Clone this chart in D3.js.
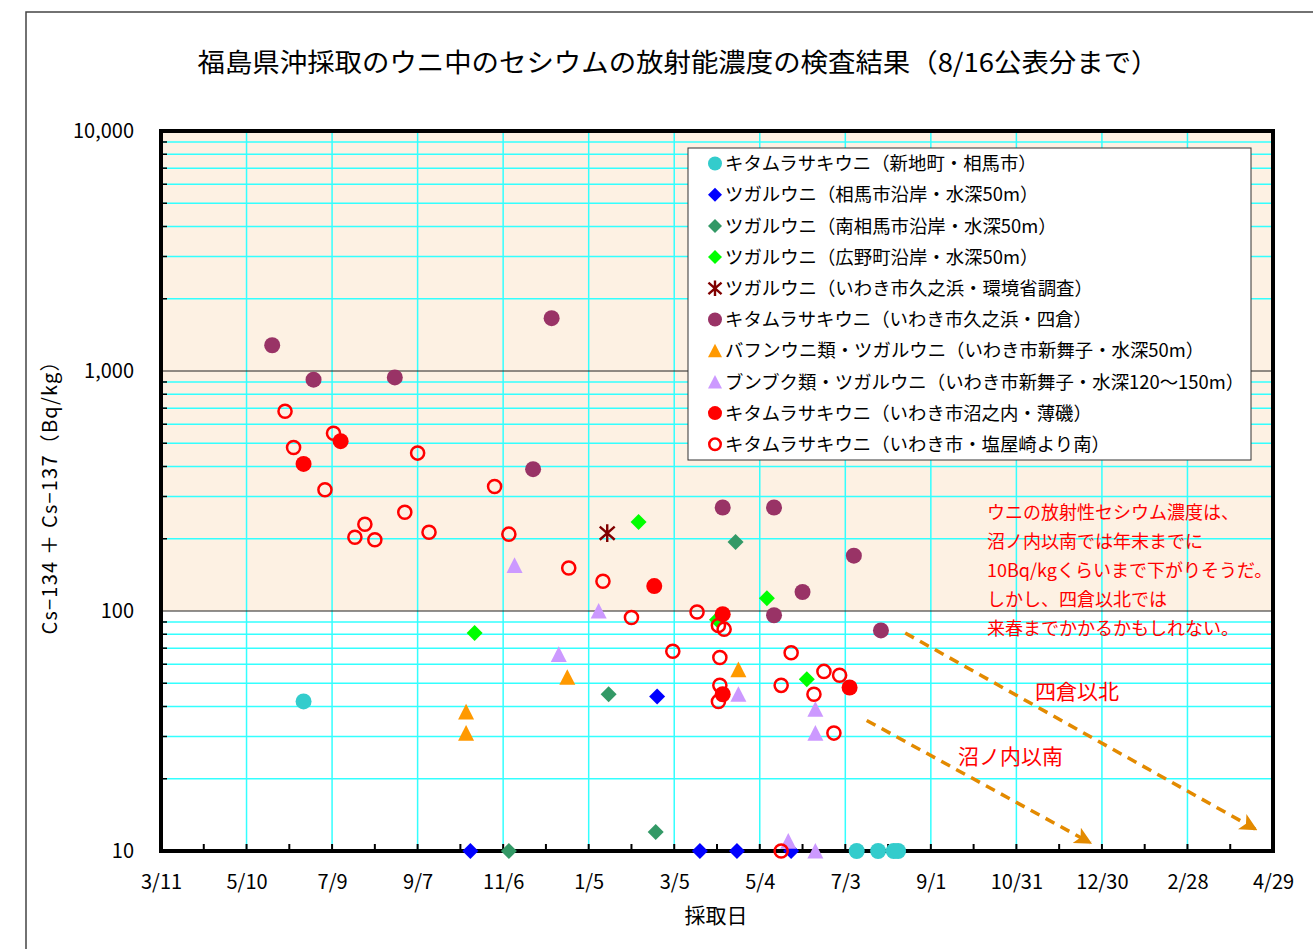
<!DOCTYPE html>
<html>
<head>
<meta charset="utf-8">
<script src="https://cdn.jsdelivr.net/npm/d3@7"></script>
<style>
  body { margin: 0; background: #fff; }
  text { font-family: "Noto Sans CJK JP", "Noto Sans", sans-serif; }
</style>
</head>
<body>
<svg id="chart" width="1313" height="949"></svg>
<script>
// ---- Data: sampling date and Cs-134 + Cs-137 (Bq/kg); not-detected samples are plotted at 10 ----
const shinchiDates  = ["2011-06-19", "2012-07-11", "2012-07-26", "2012-08-06", "2012-08-09"];
const shinchiValues = [42, 10, 10, 10, 10];

const somaDates  = ["2011-10-14", "2012-02-22", "2012-03-23", "2012-04-18", "2012-05-26"];
const somaValues = [10, 44, 10, 10, 10];

const minamisomaDates  = ["2011-11-10", "2012-01-19", "2012-02-21", "2012-04-17"];
const minamisomaValues = [10, 45, 12, 194];

const hironoDates  = ["2011-10-17", "2012-02-09", "2012-04-04", "2012-05-09", "2012-06-06"];
const hironoValues = [81, 235, 92, 113, 52];

const moeDates  = ["2012-01-18"];
const moeValues = [211];

const yotsukuraDates  = ["2011-05-28", "2011-06-26", "2011-08-22", "2011-11-27", "2011-12-10",
                         "2012-04-08", "2012-05-14", "2012-05-14", "2012-06-03", "2012-07-09", "2012-07-28"];
const yotsukuraValues = [1280, 920, 940, 390, 1660, 270, 270, 96, 120, 170, 83];

const bafunDates  = ["2011-10-11", "2011-10-11", "2011-12-21", "2012-04-19"];
const bafunValues = [38, 31, 53, 57];

const bunbukuDates  = ["2011-11-14", "2011-12-15", "2012-01-12", "2012-04-19", "2012-05-24",
                       "2012-06-12", "2012-06-12", "2012-06-12"];
const bunbukuValues = [155, 66, 100, 45, 11, 39, 31, 10];

const usuisoDates  = ["2011-06-19", "2011-07-15", "2012-02-20", "2012-04-08", "2012-04-08", "2012-07-06"];
const usuisoValues = [410, 510, 127, 97, 45, 48];

const shioyaDates  = ["2011-06-06", "2011-06-12", "2011-07-04", "2011-07-10", "2011-07-25", "2011-08-01",
                      "2011-08-08", "2011-08-29", "2011-09-07", "2011-09-15", "2011-10-31", "2011-11-10",
                      "2011-12-22", "2012-01-15", "2012-02-04", "2012-03-04", "2012-03-21", "2012-04-05",
                      "2012-04-09", "2012-04-06", "2012-04-06", "2012-04-05", "2012-05-19", "2012-05-19",
                      "2012-05-26", "2012-06-11", "2012-06-18", "2012-06-25", "2012-06-29"];
const shioyaValues = [680, 480, 320, 550, 203, 230,
                      198, 258, 455, 213, 330, 209,
                      151, 133, 94, 68, 99, 87,
                      84, 64, 49, 42, 49, 10,
                      67, 45, 56, 31, 54];

const seriesNames = [
  "キタムラサキウニ（新地町・相馬市）",
  "ツガルウニ（相馬市沿岸・水深50m）",
  "ツガルウニ（南相馬市沿岸・水深50m）",
  "ツガルウニ（広野町沿岸・水深50m）",
  "ツガルウニ（いわき市久之浜・環境省調査）",
  "キタムラサキウニ（いわき市久之浜・四倉）",
  "バフンウニ類・ツガルウニ（いわき市新舞子・水深50m）",
  "ブンブク類・ツガルウニ（いわき市新舞子・水深120〜150m）",
  "キタムラサキウニ（いわき市沼之内・薄磯）",
  "キタムラサキウニ（いわき市・塩屋崎より南）"
];

const xTickDates = ["2011-03-11", "2011-05-10", "2011-07-09", "2011-09-07", "2011-11-06", "2012-01-05",
                    "2012-03-05", "2012-05-04", "2012-07-03", "2012-09-01", "2012-10-31", "2012-12-30",
                    "2013-02-28", "2013-04-29"];
const yTicks = [10, 100, 1000, 10000];

const noteLines = [
  "ウニの放射性セシウム濃度は、",
  "沼ノ内以南では年末までに",
  "10Bq/kgくらいまで下がりそうだ。",
  "しかし、四倉以北では",
  "来春までかかるかもしれない。"
];
// trend arrows: [start date, start value, end date, end value]
const trendNorth = ["2012-08-14", 81, "2013-04-17", 12.3];
const trendSouth = ["2012-07-18", 35, "2012-12-22", 10.8];

// ---- Chart ----
const parse = d3.utcParse("%Y-%m-%d");
const svg = d3.select("#chart");
const numFont = "'Liberation Sans', 'Noto Sans', sans-serif";

const plot = { left: 161, right: 1273, top: 131, bottom: 851 };

const x = d3.scaleUtc()
  .domain([parse(xTickDates[0]), parse(xTickDates[xTickDates.length - 1])])
  .range([plot.left, plot.right]);
const y = d3.scaleLog()
  .domain([yTicks[0], yTicks[yTicks.length - 1]])
  .range([plot.bottom, plot.top]);

// outer frame of the chart object
svg.append("path")
  .attr("d", "M26,949 V12 H1313")
  .attr("fill", "none").attr("stroke", "#444").attr("stroke-width", 1.5);

// tinted band above 100 Bq/kg
svg.append("rect")
  .attr("x", plot.left).attr("y", y(10000))
  .attr("width", plot.right - plot.left).attr("height", y(100) - y(10000))
  .attr("fill", "#FDF1E3");

// minor horizontal grid (2..9 within each decade)
const minorVals = [];
for (let d = 10; d < 10000; d *= 10) for (let k = 2; k <= 9; k++) minorVals.push(d * k);
svg.append("g").selectAll("line").data(minorVals).join("line")
  .attr("x1", plot.left).attr("x2", plot.right)
  .attr("y1", v => y(v)).attr("y2", v => y(v))
  .attr("stroke", "#33FFFF").attr("stroke-width", 1.5);

// vertical grid at each major date tick
const xTicks = xTickDates.map(parse);
svg.append("g").selectAll("line").data(xTicks.slice(1, -1)).join("line")
  .attr("x1", d => x(d)).attr("x2", d => x(d))
  .attr("y1", plot.top).attr("y2", plot.bottom)
  .attr("stroke", "#33FFFF").attr("stroke-width", 1.5);

// major horizontal lines
svg.append("g").selectAll("line").data(yTicks.slice(1, -1)).join("line")
  .attr("x1", plot.left).attr("x2", plot.right)
  .attr("y1", v => y(v)).attr("y2", v => y(v))
  .attr("stroke", "#222").attr("stroke-width", 1);

// left axis
const yAxis = d3.axisLeft(y)
  .tickValues(yTicks)
  .tickFormat(d3.format(","))
  .tickSize(0).tickPadding(27);
const gy = svg.append("g").attr("transform", `translate(${plot.left},0)`).call(yAxis);
gy.select(".domain").remove();
gy.selectAll("text").attr("font-size", 20).attr("fill", "#000").attr("font-family", numFont);
// inward minor ticks on left axis
svg.append("g").selectAll("line").data(minorVals).join("line")
  .attr("x1", plot.left).attr("x2", plot.left + 6)
  .attr("y1", v => y(v)).attr("y2", v => y(v))
  .attr("stroke", "#000").attr("stroke-width", 1.5);

// bottom axis
const xAxis = d3.axisBottom(x)
  .tickValues(xTicks)
  .tickFormat(d3.utcFormat("%-m/%-d"))
  .tickSize(0).tickPadding(24);
const gx = svg.append("g").attr("transform", `translate(0,${plot.bottom})`).call(xAxis);
gx.select(".domain").remove();
gx.selectAll("text").attr("font-size", 20).attr("fill", "#000").attr("font-family", numFont);
// upward ticks every 30 days
const tickDays = d3.utcDay.range(x.domain()[0], d3.utcDay.offset(x.domain()[1], 1))
  .filter(d => Math.round((d - x.domain()[0]) / 864e5) % 30 === 0);
svg.append("g").selectAll("line").data(tickDays).join("line")
  .attr("x1", d => x(d)).attr("x2", d => x(d))
  .attr("y1", plot.bottom).attr("y2", plot.bottom - 7)
  .attr("stroke", "#000").attr("stroke-width", 2);

// plot frame
svg.append("rect")
  .attr("x", plot.left).attr("y", plot.top)
  .attr("width", plot.right - plot.left).attr("height", plot.bottom - plot.top)
  .attr("fill", "none").attr("stroke", "#000").attr("stroke-width", 4);

// ---- Marker shapes ----
function markerPath(shape, s) {
  switch (shape) {
    case "diamond":
      return `M0,${-s}L${s},0L0,${s}L${-s},0Z`;
    case "triangle":
      return `M0,${-s}L${s},${s * 0.95}L${-s},${s * 0.95}Z`;
    case "asterisk": {
      const a = s * 0.75, b = s * 0.85;
      return `M0,${-s}V${s}M${-b},${-a}L${b},${a}M${b},${-a}L${-b},${a}`;
    }
    default:
      return d3.arc()({ innerRadius: 0, outerRadius: s, startAngle: 0, endAngle: 2 * Math.PI });
  }
}

const series = [
  { dates: shinchiDates,    values: shinchiValues,    shape: "circle",   color: "#33CCCC" },
  { dates: somaDates,       values: somaValues,       shape: "diamond",  color: "#0000FF" },
  { dates: minamisomaDates, values: minamisomaValues, shape: "diamond",  color: "#339966" },
  { dates: hironoDates,     values: hironoValues,     shape: "diamond",  color: "#00FF00" },
  { dates: moeDates,        values: moeValues,        shape: "asterisk", color: "#800000" },
  { dates: yotsukuraDates,  values: yotsukuraValues,  shape: "circle",   color: "#993366" },
  { dates: bafunDates,      values: bafunValues,      shape: "triangle", color: "#FF9900" },
  { dates: bunbukuDates,    values: bunbukuValues,    shape: "triangle", color: "#CC99FF" },
  { dates: usuisoDates,     values: usuisoValues,     shape: "circle",   color: "#FF0000" },
  { dates: shioyaDates,     values: shioyaValues,     shape: "ring",     color: "#FF0000" }
].map((s, i) => ({ ...s, name: seriesNames[i] }));

function styleMarker(sel, s, size) {
  if (s.shape === "ring") {
    sel.attr("d", markerPath("circle", size * 0.82))
      .attr("fill", "none").attr("stroke", s.color).attr("stroke-width", 2.5);
  } else if (s.shape === "asterisk") {
    sel.attr("d", markerPath("asterisk", size * 1.1))
      .attr("fill", "none").attr("stroke", s.color).attr("stroke-width", 2.4);
  } else {
    sel.attr("d", markerPath(s.shape, size)).attr("fill", s.color).attr("stroke", "none");
  }
}

const gMarks = svg.append("g");
series.forEach(s => {
  const pts = s.dates.map((d, i) => ({ date: parse(d), value: s.values[i] }));
  gMarks.append("g").selectAll("path").data(pts).join("path")
    .attr("transform", p => `translate(${x(p.date)},${y(p.value)})`)
    .call(sel => styleMarker(sel, s, 8));
});

// ---- Legend ----
const legend = svg.append("g").attr("transform", "translate(688,148)");
legend.append("rect").attr("width", 563).attr("height", 312)
  .attr("fill", "#fff").attr("stroke", "#333").attr("stroke-width", 1);
series.forEach((s, i) => {
  const row = legend.append("g").attr("transform", `translate(0,${15.5 + i * 31.2})`);
  row.append("path").attr("transform", "translate(27,0)")
    .call(sel => styleMarker(sel, s, 7));
  row.append("text").attr("x", 37).attr("y", 0).attr("dy", "0.36em")
    .attr("font-size", 18.4).attr("fill", "#000").text(s.name);
});

// ---- Trend arrows ----
const defs = svg.append("defs");
defs.append("marker").attr("id", "arrowHead")
  .attr("viewBox", "0 0 10 10").attr("refX", 9).attr("refY", 5)
  .attr("markerWidth", 5).attr("markerHeight", 5).attr("orient", "auto")
  .attr("markerUnits", "strokeWidth")
  .append("path").attr("d", "M0,0L10,5L0,10L2.5,5Z").attr("fill", "#E38A00");

[trendNorth, trendSouth].forEach(t => {
  svg.append("line")
    .attr("x1", x(parse(t[0]))).attr("y1", y(t[1]))
    .attr("x2", x(parse(t[2]))).attr("y2", y(t[3]))
    .attr("stroke", "#E38A00").attr("stroke-width", 3.5)
    .attr("stroke-dasharray", "10,7")
    .attr("marker-end", "url(#arrowHead)");
});

// ---- Annotations ----
const note = svg.append("g").attr("fill", "#FF0000").attr("font-size", 18);
noteLines.forEach((line, i) => {
  note.append("text").attr("x", 987).attr("y", 519 + i * 29).text(line);
});
svg.append("text").attr("x", 1035).attr("y", 699).attr("font-size", 21)
  .attr("fill", "#FF0000").text("四倉以北");
svg.append("text").attr("x", 958).attr("y", 764).attr("font-size", 21)
  .attr("fill", "#FF0000").text("沼ノ内以南");

// ---- Titles ----
svg.append("text").attr("x", 678).attr("y", 72).attr("text-anchor", "middle")
  .attr("font-size", 26).attr("fill", "#000")
  .attr("textLength", 961).attr("lengthAdjust", "spacingAndGlyphs")
  .text("福島県沖採取のウニ中のセシウムの放射能濃度の検査結果（8/16公表分まで）");

svg.append("text").attr("transform", "translate(57,493) rotate(-90)")
  .attr("text-anchor", "middle").attr("font-size", 20).attr("fill", "#000")
  .attr("textLength", 283).attr("lengthAdjust", "spacing")
  .text("Cs−134 ＋ Cs−137（Bq/kg）");

svg.append("text").attr("x", 716).attr("y", 923).attr("text-anchor", "middle")
  .attr("font-size", 21).attr("fill", "#000").text("採取日");
</script>
</body>
</html>
